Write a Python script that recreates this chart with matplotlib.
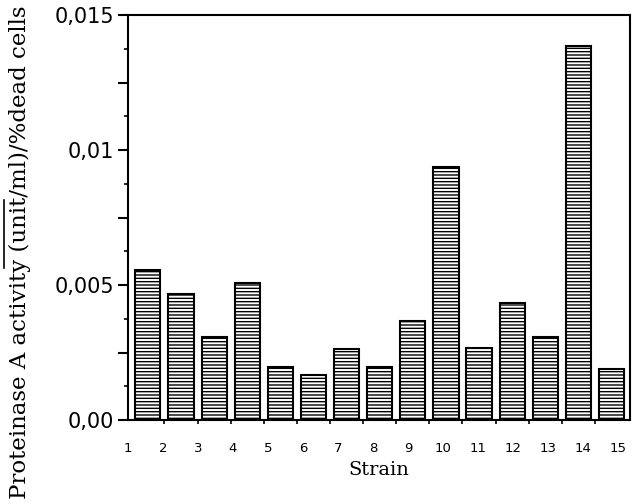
import matplotlib
matplotlib.use("Agg")
import matplotlib.pyplot as plt
import numpy as np
from matplotlib.lines import Line2D

strains = [str(i) for i in range(1, 16)]
activity = [0.00557, 0.00467, 0.00309, 0.00508, 0.00196, 0.00167, 0.00262, 0.00196,
            0.00365, 0.00938, 0.00266, 0.00433, 0.00307, 0.01387, 0.00188]
ytick_labels = ["0,00", "0,005", "0,01", "0,015"]

plt.rcParams['hatch.linewidth'] = 1.0
plt.rcParams['hatch.color'] = 'black'

fig = plt.figure(figsize=(6.32, 5.03), dpi=100)
ax = fig.add_axes([0.2025, 0.165, 0.795, 0.805])

x = np.arange(len(activity))
ax.bar(x, activity, width=0.76, color='white', edgecolor='black', linewidth=1.5,
       hatch='-----')

ax.set_xlim(-0.42, 14.57)
ax.set_ylim(0, 0.015)

# y ticks
ax.set_yticks([0, 0.0025, 0.005, 0.0075, 0.01, 0.0125, 0.015])
ax.set_yticklabels([ytick_labels[0], "", ytick_labels[1], "", ytick_labels[2], "", ytick_labels[3]],
                   fontsize=15, family='DejaVu Sans')
ax.set_yticks(np.arange(0.00125, 0.015, 0.0025), minor=True)
ax.tick_params(axis='y', which='major', direction='out', length=7, width=1.5, pad=3)
ax.tick_params(axis='y', which='minor', direction='out', length=3, width=1.2)

# x tick labels (offset from bars as in the original)
label_pos = np.linspace(-0.6, 14.2, len(strains))
ax.set_xticks(label_pos)
ax.set_xticklabels(strains, fontsize=9.5, family='DejaVu Sans')
ax.set_xticks(np.arange(0.5, 14.5, 1.0), minor=True)
ax.tick_params(axis='x', which='major', length=0, pad=16)
ax.tick_params(axis='x', which='minor', direction='out', length=3, width=1.2)

for s in ax.spines.values():
    s.set_linewidth(1.5)

ax.set_xlabel("Strain", fontsize=14, family='DejaVu Serif', labelpad=4)
ax.set_ylabel("Proteinase A activity (unit/ml)/%dead cells", fontsize=16.5,
              family='DejaVu Serif')
ax.yaxis.set_label_coords(-0.193, 0.415)

fig.add_artist(Line2D([0.006, 0.006], [1 - 268/503, 1 - 200/503], color='black', lw=1.2,
                      transform=fig.transFigure))

fig.savefig("out.png", dpi=100)
